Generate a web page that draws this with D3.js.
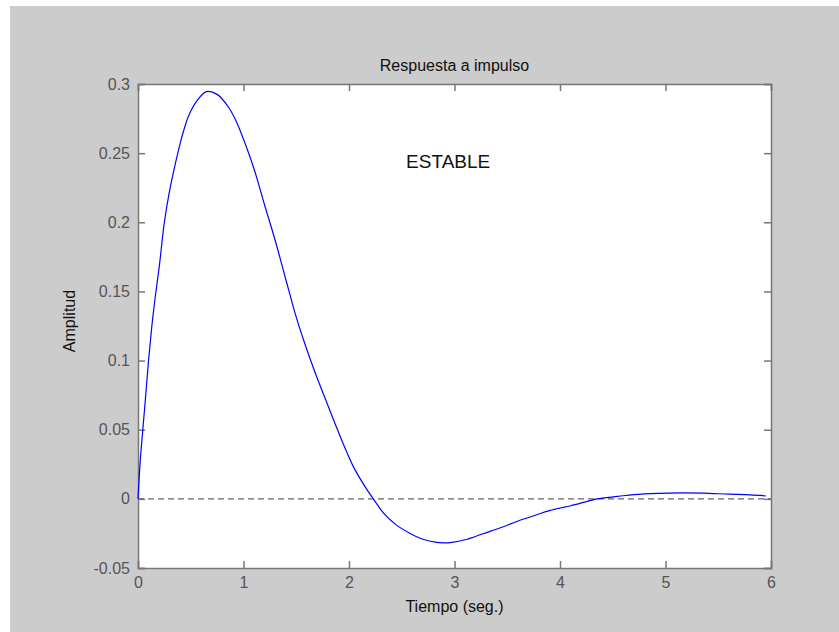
<!DOCTYPE html>
<html>
<head>
<meta charset="utf-8">
<script src="https://cdn.jsdelivr.net/npm/d3@7"></script>
<style>
  html, body { margin: 0; padding: 0; background: #fff; }
  svg { display: block; font-family: 'Liberation Sans', Arial, sans-serif; }
</style>
</head>
<body>
<div class="impulse-chart"></div>
<script>
// impulse response samples
const timeValues = [0, 0.02, 0.04, 0.07, 0.1, 0.13, 0.16, 0.2, 0.25, 0.3, 0.35, 0.41, 0.48, 0.56,
  0.65, 0.75, 0.86, 0.94, 1.01, 1.1, 1.2, 1.3, 1.4, 1.49, 1.58, 1.68, 1.78, 1.87, 1.95, 2.04,
  2.14, 2.23, 2.33, 2.45, 2.58, 2.7, 2.83, 2.9, 2.96, 3.12, 3.27, 3.45, 3.62, 3.78, 3.9, 4.1,
  4.25, 4.35, 4.55, 4.7, 4.93, 5.15, 5.35, 5.6, 5.8, 5.95];
const amplitudeValues = [0, 0.026, 0.045, 0.072, 0.1, 0.124, 0.144, 0.167, 0.2, 0.223, 0.241, 0.26,
  0.277, 0.288, 0.2945, 0.2925, 0.283, 0.2715, 0.258, 0.2385, 0.2125, 0.187, 0.159, 0.134, 0.1125,
  0.091, 0.0715, 0.054, 0.039, 0.0235, 0.0103, 0, -0.0105, -0.019, -0.025, -0.0292, -0.0315,
  -0.0318, -0.0316, -0.0292, -0.0252, -0.0205, -0.0155, -0.0115, -0.0085, -0.005, -0.002, 0,
  0.0018, 0.0031, 0.004, 0.0043, 0.0041, 0.0034, 0.0029, 0.0022];
const xTicks = [0, 1, 2, 3, 4, 5, 6];
const yTicks = [-0.05, 0, 0.05, 0.1, 0.15, 0.2, 0.25, 0.3];

const containerWidth = 839;
const containerHeight = 632;
const margin = { top: 84, right: 68, bottom: 64, left: 138 };
const graphWidth = containerWidth - margin.left - margin.right;
const graphHeight = containerHeight - margin.top - margin.bottom;

const axisColor = '#777';
const labelColor = '#555';

const svg = d3
  .select('.impulse-chart')
  .append('svg')
  .attr('width', containerWidth)
  .attr('height', containerHeight);

// grey figure, with the thin white strip at the top and left
svg
  .append('rect')
  .attr('x', 10)
  .attr('y', 6)
  .attr('width', containerWidth - 10)
  .attr('height', containerHeight - 6)
  .attr('fill', '#cccccc');

const graph = svg
  .append('g')
  .attr('transform', `translate(${margin.left}, ${margin.top})`);

const xScale = d3.scaleLinear().domain([0, 6]).range([0, graphWidth]);
const yScale = d3.scaleLinear().domain([-0.05, 0.3]).range([graphHeight, 0]);

graph
  .append('rect')
  .attr('width', graphWidth)
  .attr('height', graphHeight)
  .attr('fill', '#fff');

// plain hyphen for negatives, like the original
const tickFormat = (d) => String(+d.toFixed(2));

// ticks point inward on all four sides, labels only bottom and left
const xAxis = d3.axisBottom(xScale).tickValues(xTicks).tickSize(-7).tickPadding(9).tickFormat(tickFormat);
const yAxis = d3.axisLeft(yScale).tickValues(yTicks).tickSize(-7).tickPadding(8).tickFormat(tickFormat);
const xAxisTop = d3.axisTop(xScale).tickValues(xTicks).tickSize(-7).tickFormat('');
const yAxisRight = d3.axisRight(yScale).tickValues(yTicks).tickSize(-7).tickFormat('');

const styleAxis = (g) => {
  g.select('.domain').attr('stroke', axisColor).attr('stroke-width', 1.5);
  g.selectAll('.tick line').attr('stroke', axisColor).attr('stroke-width', 1.5);
  g.selectAll('.tick text')
    .attr('fill', labelColor)
    .style('font-size', '16px')
    .style('font-family', "'Liberation Sans', Arial, sans-serif");
};

graph.append('g').attr('transform', `translate(0, ${graphHeight})`).call(xAxis).call(styleAxis);
graph.append('g').call(yAxis).call(styleAxis);
graph.append('g').call(xAxisTop).call(styleAxis);
graph.append('g').attr('transform', `translate(${graphWidth}, 0)`).call(yAxisRight).call(styleAxis);

// zero reference line
graph
  .append('line')
  .attr('x1', xScale(0))
  .attr('x2', xScale(6))
  .attr('y1', yScale(0))
  .attr('y2', yScale(0))
  .attr('stroke', '#666')
  .attr('stroke-width', 1.2)
  .attr('stroke-dasharray', '6,4');

const points = timeValues.map((t, i) => [t, amplitudeValues[i]]);

const line = d3
  .line()
  .x((d) => xScale(d[0]))
  .y((d) => yScale(d[1]))
  .curve(d3.curveCatmullRom.alpha(0.5));

graph
  .append('path')
  .datum(points)
  .attr('d', line)
  .attr('fill', 'none')
  .attr('stroke', '#0000ff')
  .attr('stroke-width', 1.2);

graph
  .append('text')
  .attr('x', xScale(2.94))
  .attr('y', yScale(0.2395))
  .attr('text-anchor', 'middle')
  .style('font-size', '19px')
  .attr('fill', '#111')
  .text('ESTABLE');

svg
  .append('text')
  .attr('x', margin.left + graphWidth / 2)
  .attr('y', 71)
  .attr('text-anchor', 'middle')
  .style('font-size', '16px')
  .attr('fill', '#111')
  .text('Respuesta a impulso');

svg
  .append('text')
  .attr('x', margin.left + graphWidth / 2)
  .attr('y', 612)
  .attr('text-anchor', 'middle')
  .style('font-size', '16px')
  .attr('fill', '#111')
  .text('Tiempo (seg.)');

svg
  .append('text')
  .attr('transform', `translate(75, 321) rotate(-90)`)
  .attr('text-anchor', 'middle')
  .style('font-size', '16px')
  .attr('fill', '#111')
  .text('Amplitud');
</script>
</body>
</html>
